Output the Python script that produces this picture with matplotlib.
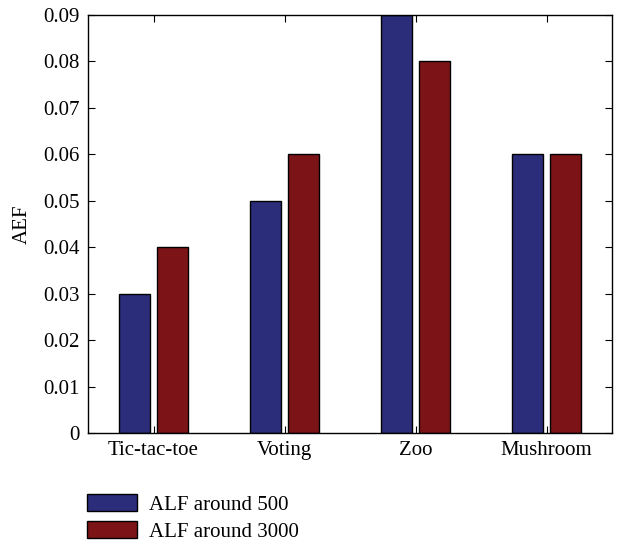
import numpy as np
import matplotlib
matplotlib.use("Agg")
import matplotlib.pyplot as plt

plt.rcParams['font.family'] = ['Liberation Serif', 'DejaVu Serif']

# data
datasets = ["Tic-tac-toe", "Voting", "Zoo", "Mushroom"]
alf_500 = [0.03, 0.05, 0.09, 0.06]
alf_3000 = [0.04, 0.06, 0.08, 0.06]
series_labels = ["ALF around 500", "ALF around 3000"]

blue = "#2b2c7a"
red = "#7c1417"

fig = plt.figure(figsize=(6.17, 5.45), dpi=100)
ax = fig.add_axes([88/617, 1 - 433/545, (612-88)/617, (433-15)/545])

x = np.arange(1, len(datasets) + 1)
w = 0.236
off = 0.145
b1 = ax.bar(x - off, alf_500, w, color=blue, edgecolor="black", linewidth=1.0)
b2 = ax.bar(x + off, alf_3000, w, color=red, edgecolor="black", linewidth=1.0)

ax.set_xlim(0.5, 4.5)
ax.set_ylim(0, 0.09)
ax.set_yticks(np.arange(0, 0.091, 0.01))
ax.set_yticklabels(["0"] + ["%.2f" % v for v in np.arange(0.01, 0.091, 0.01)])
ax.set_xticks(x)
ax.set_xticklabels(datasets)
ax.tick_params(direction="in", top=True, right=True, labelsize=15, length=5, pad=6)
ax.set_ylabel("AEF", fontsize=15, labelpad=8)
for s in ax.spines.values():
    s.set_linewidth(1.0)

fig.legend([b1, b2], series_labels, loc="upper left",
           bbox_to_anchor=(68/617, 1 - 475/545), frameon=False,
           fontsize=15, handlelength=2.4, handleheight=0.9,
           labelspacing=0.3, handletextpad=0.6)

plt.savefig("out.png", dpi=100)
